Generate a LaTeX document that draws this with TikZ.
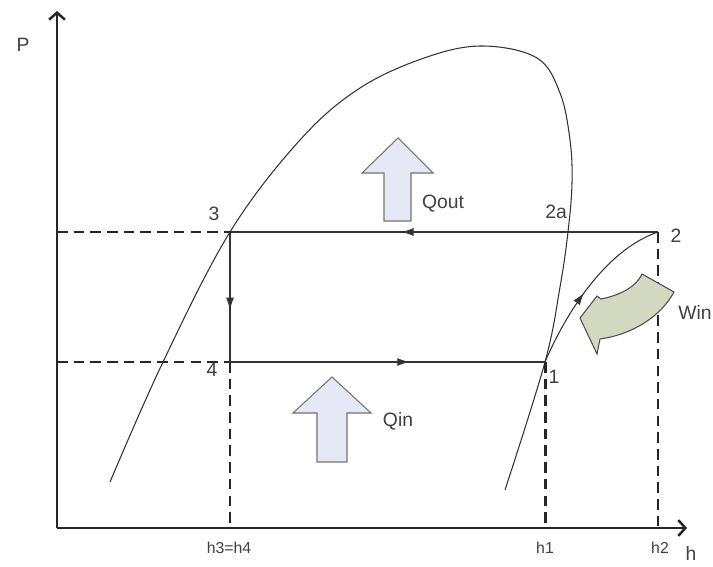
\documentclass[tikz,border=0pt]{standalone}
\usepackage{fontspec}
\setmainfont{Liberation Sans}
\usetikzlibrary{arrows.meta,decorations.markings}

\definecolor{heatfill}{RGB}{229,233,245}
\definecolor{workfill}{RGB}{211,216,193}

\tikzset{
  axis/.style={line width=1.4pt,draw=black!85,-{Straight Barb[length=4pt,width=9pt]}},
  guide/.style={line width=1.3pt,draw=black!85,dash pattern=on 6pt off 3.5pt},
  proc/.style={line width=0.6pt,draw=black!80},
  midarrow/.style={postaction={decorate},decoration={markings,
      mark=at position #1 with {\arrow{Latex[length=7pt,width=4.5pt]}}}},
  heat/.style={draw=black!55,fill=heatfill,line width=0.6pt},
  work/.style={draw=black!70,fill=workfill,line width=0.6pt},
  lbl/.style={text=black!75,inner sep=0pt,font=\fontsize{11}{11}\selectfont},
  tick/.style={text=black!75,inner sep=0pt,font=\fontsize{9}{9}\selectfont},
}

\begin{document}
\begin{tikzpicture}[x=0.02cm,y=-0.02cm]
  \useasboundingbox (0,0) rectangle (713,567);

  \coordinate (o) at (57,528);
  \coordinate (ytop) at (57,11);
  \coordinate (xend) at (687,528);
  \coordinate (s1) at (545,362);
  \coordinate (s2) at (658,232);
  \coordinate (s3) at (230,232);
  \coordinate (s4) at (230,362);
  \coordinate (p3) at (57,232);
  \coordinate (p4) at (57,362);
  \coordinate (h34) at (230,528);
  \coordinate (h1) at (545,528);
  \coordinate (h2) at (658,528);

  % saturation dome
  \draw[proc] plot[smooth,tension=0.6] coordinates {(110,482) (163,362)
    (230,232) (300,140) (360,88) (427,57) (483,46) (537,58) (560,93)
    (570,140) (572,183) (568,232) (560,287) (545,362) (505,490)};

  \draw[guide] (p3) -- (s3);
  \draw[guide] (p4) -- (s4);
  \draw[guide] (s4) -- (h34);
  \draw[guide,line width=1.7pt] (s1) -- (h1);
  \draw[guide] (s2) -- (h2);

  \draw[axis] (o) -- (ytop);
  \draw[axis] (o) -- (xend);

  \draw[proc,midarrow=0.6] (s2) -- (s3);
  \draw[proc,midarrow=0.6] (s3) -- (s4);
  \draw[proc,midarrow=0.57] (s4) -- (s1);
  \draw[proc,midarrow=0.45] (s1) .. controls (565,315) and (605,250) .. (s2);

  \draw[heat] (398,138) -- (433,173) -- (411,173) -- (411,221) -- (384,221)
    -- (384,173) -- (362,173) -- cycle;
  \draw[heat] (332,377) -- (371,413) -- (347,413) -- (347,462) -- (317,462)
    -- (317,413) -- (293,413) -- cycle;
  \draw[work] (642,274) -- (674,292) .. controls (660,318) and (630,335) .. (600,339)
    -- (597,354) -- (580,318) -- (597,296) -- (601,299)
    .. controls (616,296) and (635,289) .. (642,274) -- cycle;

  \node[lbl] (lp) at (23,45) {P};
  \node[lbl] (lh) at (691,553) {h};
  \node[lbl] (l3) at (214,214) {3};
  \node[lbl] (l2) at (676,236) {2};
  \node[lbl] (l2a) at (556,212) {2a};
  \node[lbl] (l4) at (212,370) {4};
  \node[lbl] (l1) at (554,377) {1};
  \node[lbl] (lqout) at (443,204) {Qout};
  \node[lbl] (lqin) at (398,421) {Qin};
  \node[lbl,anchor=east] (lwin) at (712,312) {Win};
  \node[tick] (t34) at (229,548) {h3=h4};
  \node[tick] (t1) at (545,548) {h1};
  \node[tick] (t2) at (660,548) {h2};
\end{tikzpicture}
\end{document}
